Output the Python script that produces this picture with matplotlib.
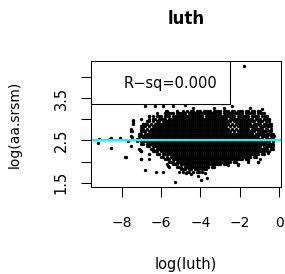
import numpy as np
import matplotlib
matplotlib.use('Agg')
import matplotlib.pyplot as plt
from matplotlib.patches import Rectangle

# Nube de puntos leida fila por fila (x en decimas de log(luth))
row_y = [3.20, 3.14, 3.08, 3.02, 2.96, 2.90, 2.84, 2.78, 2.72, 2.66, 2.60, 2.54, 2.48,
         2.42, 2.36, 2.30, 2.24, 2.18, 2.12, 2.06, 2.00, 1.94, 1.88, 1.82, 1.76]
row_x = [
    [-57, -52, -49, -47, -45, -44, -42, -41, -40, -38, -37, -36, -35, -33, -32, -31, -30, -28, -27, -26,
     -24, -23, -21, -20, -19, -17, -16, -14, -13, -11, -10],
    [-62, -58, -57, -56, -55, -54, -52, -51, -50, -49, -48, -46, -45, -44, -43, -42, -41, -40, -39, -38,
     -37, -36, -35, -34, -33, -32, -31, -30, -28, -27, -26, -25, -24, -23, -22, -21, -20, -19, -17, -16,
     -15, -14, -13, -11, -10, -9, -8],
    [-66, -64, -61, -60, -58, -57, -56, -54, -53, -52, -51, -50, -49, -48, -47, -46, -45, -44, -43, -42,
     -41, -40, -39, -37, -36, -35, -34, -33, -32, -31, -30, -29, -28, -27, -26, -25, -24, -23, -21, -20,
     -19, -18, -17, -16, -14, -13, -12, -11, -9, -8, -7, -6],
    [-70, -66, -64, -63, -61, -60, -59, -58, -56, -55, -54, -53, -52, -51, -50, -49, -48, -47, -46, -45,
     -44, -43, -42, -41, -40, -39, -38, -37, -36, -35, -34, -33, -32, -31, -30, -29, -28, -27, -25, -24,
     -23, -22, -21, -20, -19, -18, -17, -16, -15, -14, -12, -11, -10, -8, -7, -6, -5],
    [-74, -67, -66, -64, -62, -61, -59, -58, -57, -56, -55, -54, -53, -52, -51, -50, -49, -48, -47, -46,
     -45, -44, -43, -42, -41, -40, -39, -38, -37, -36, -35, -34, -33, -32, -31, -30, -29, -28, -27, -26,
     -25, -23, -22, -21, -20, -19, -18, -17, -16, -15, -14, -13, -11, -10, -9, -7, -6, -5],
    [-74, -69, -68, -67, -65, -63, -62, -61, -60, -59, -58, -57, -56, -55, -54, -53, -52, -51, -50, -49,
     -48, -47, -46, -45, -44, -43, -42, -41, -40, -39, -38, -37, -36, -35, -34, -33, -32, -31, -30, -29,
     -28, -27, -26, -24, -22, -21, -20, -19, -18, -17, -16, -15, -13, -12, -11, -10, -8, -7, -5, -4],
    [-70, -69, -68, -66, -64, -63, -62, -61, -60, -59, -58, -57, -56, -55, -54, -53, -52, -51, -50, -49,
     -48, -47, -46, -45, -44, -43, -42, -41, -40, -39, -38, -37, -36, -35, -34, -33, -32, -31, -30, -29,
     -28, -27, -25, -23, -21, -20, -19, -18, -17, -16, -15, -14, -13, -12, -10, -9, -8, -6, -5, -4],
    [-75, -70, -69, -67, -65, -64, -63, -62, -61, -60, -59, -58, -57, -56, -55, -54, -53, -52, -51, -50,
     -49, -48, -47, -46, -45, -44, -43, -42, -41, -40, -39, -38, -37, -36, -35, -34, -33, -32, -31, -30,
     -29, -28, -27, -26, -24, -22, -20, -19, -18, -17, -16, -14, -13, -12, -11, -10, -9, -7, -6, -4],
    [-75, -70, -69, -68, -66, -65, -64, -63, -62, -61, -60, -59, -58, -57, -56, -55, -54, -53, -52, -51,
     -50, -49, -48, -47, -46, -45, -44, -43, -42, -41, -40, -39, -38, -37, -36, -35, -34, -33, -32, -31,
     -30, -29, -28, -27, -26, -25, -23, -21, -20, -19, -18, -17, -16, -15, -14, -13, -11, -10, -9, -8,
     -7, -5, -4],
    [-71, -70, -68, -67, -66, -65, -64, -63, -62, -61, -60, -59, -58, -57, -56, -55, -54, -53, -52, -51,
     -50, -49, -48, -47, -46, -45, -44, -43, -42, -41, -40, -39, -38, -37, -36, -35, -34, -33, -32, -31,
     -30, -29, -28, -27, -26, -25, -24, -23, -22, -21, -20, -19, -18, -17, -16, -15, -14, -12, -11, -10,
     -9, -8, -6, -5, -4, -3],
    [-75, -71, -70, -69, -68, -67, -66, -65, -64, -63, -62, -61, -60, -59, -58, -57, -56, -55, -54, -53,
     -52, -51, -50, -49, -48, -47, -46, -45, -44, -43, -42, -41, -40, -39, -38, -37, -36, -35, -34, -33,
     -32, -31, -30, -29, -28, -27, -26, -25, -24, -23, -22, -21, -20, -19, -18, -17, -16, -15, -14, -13,
     -12, -11, -9, -8, -7, -6, -4, -3],
    [-86, -81, -72, -71, -69, -68, -67, -66, -65, -64, -63, -62, -61, -60, -59, -58, -57, -56, -55, -54,
     -53, -52, -51, -50, -49, -48, -47, -46, -45, -44, -43, -42, -41, -40, -39, -38, -37, -36, -35, -34,
     -33, -32, -31, -30, -29, -28, -27, -26, -25, -24, -23, -22, -21, -20, -19, -18, -17, -16, -15, -14,
     -13, -12, -11, -10, -9, -7, -6, -5, -4, -3],
    [-77, -72, -70, -69, -68, -67, -66, -65, -64, -63, -62, -61, -60, -59, -58, -57, -56, -55, -54, -53,
     -52, -51, -50, -49, -48, -47, -46, -45, -44, -43, -42, -41, -40, -39, -38, -37, -36, -35, -34, -33,
     -32, -31, -30, -29, -28, -27, -26, -25, -24, -23, -22, -21, -20, -19, -18, -17, -16, -15, -14, -13,
     -12, -11, -10, -9, -8, -7, -6, -5, -3],
    [-70, -69, -67, -66, -65, -64, -63, -62, -61, -60, -59, -58, -57, -56, -55, -54, -53, -52, -51, -50,
     -49, -48, -47, -46, -45, -44, -43, -42, -41, -40, -39, -38, -37, -36, -35, -34, -33, -32, -31, -30,
     -29, -28, -27, -26, -25, -24, -23, -22, -21, -20, -19, -18, -17, -16, -15, -14, -13, -12, -11, -10,
     -9, -8, -7, -5, -4, -3],
    [-75, -67, -66, -64, -63, -62, -61, -60, -59, -58, -57, -56, -55, -54, -53, -52, -51, -50, -49, -48,
     -47, -46, -45, -44, -43, -42, -41, -40, -39, -38, -37, -36, -35, -34, -33, -32, -31, -30, -29, -28,
     -27, -26, -25, -24, -23, -22, -21, -20, -19, -18, -17, -16, -15, -14, -13, -12, -11, -10, -8, -7,
     -6, -5, -4, -3],
    [-71, -65, -64, -62, -61, -60, -59, -58, -57, -56, -55, -54, -53, -52, -51, -50, -49, -48, -47, -46,
     -45, -44, -43, -42, -41, -40, -39, -38, -37, -36, -35, -34, -33, -32, -31, -30, -29, -28, -27, -26,
     -25, -24, -23, -22, -21, -20, -19, -18, -17, -16, -15, -14, -13, -12, -11, -10, -9, -8, -7, -6,
     -4, -3],
    [-70, -64, -63, -62, -60, -59, -58, -57, -56, -55, -54, -53, -52, -51, -50, -49, -48, -47, -46, -45,
     -44, -43, -42, -41, -40, -39, -38, -37, -36, -35, -34, -33, -32, -31, -30, -29, -28, -27, -26, -25,
     -24, -23, -22, -21, -20, -19, -18, -17, -16, -15, -14, -13, -12, -11, -10, -9, -8, -6, -5],
    [-66, -62, -61, -59, -58, -57, -56, -55, -54, -53, -52, -51, -50, -49, -48, -47, -46, -45, -44, -43,
     -42, -41, -40, -39, -38, -37, -36, -35, -34, -33, -32, -31, -30, -29, -28, -27, -26, -25, -24, -23,
     -22, -21, -20, -19, -18, -17, -16, -15, -14, -13, -12, -11, -9, -8],
    [-78, -60, -59, -57, -55, -54, -53, -52, -51, -50, -49, -48, -47, -46, -45, -44, -43, -42, -41, -40,
     -39, -38, -37, -36, -35, -34, -33, -32, -31, -30, -29, -28, -27, -26, -25, -24, -23, -22, -21, -20,
     -19, -18, -17, -16, -15, -13, -12],
    [-70, -66, -58, -57, -56, -54, -53, -52, -51, -50, -49, -48, -47, -46, -45, -44, -43, -42, -41, -40,
     -39, -38, -37, -36, -35, -34, -33, -32, -31, -30, -29, -28, -27, -26, -25, -24, -23, -22, -21, -20,
     -19, -17, -16, -10],
    [-56, -55, -54, -52, -51, -50, -49, -48, -47, -46, -45, -44, -43, -42, -41, -40, -39, -38, -37, -36,
     -35, -34, -33, -32, -31, -30, -29, -28, -27, -26, -25, -23, -22, -16, -11],
    [-57, -54, -53, -52, -50, -49, -48, -47, -46, -45, -44, -43, -42, -41, -40, -39, -38, -37, -36, -35,
     -34, -33, -32, -31, -30, -28, -27, -21],
    [-56, -52, -51, -50, -48, -47, -46, -45, -44, -43, -42, -41, -40, -39, -38, -37, -36, -34, -33],
    [-50, -49, -48, -46, -45, -43, -42, -41, -39, -38, -37],
    [-51, -49, -47, -46, -44, -42, -41, -39],
]

# Puntos sueltos fuera de la nube
sparse_x = [-9.21, -9.15, -8.54, -8.56, -8.10, -7.83, -7.42, -7.42, -7.47, -7.47, -7.09, -7.00, -7.03,
            -6.83, -6.24, -5.90, -5.65, -5.30, -4.74, -4.50, -4.13, -3.97, -3.69, -3.77, -2.60, -2.10,
            -1.60, -1.08, -0.57, -0.29, -6.80, -6.31, -5.89, -5.38, -4.79, -3.74, -2.38, -1.78, -6.60,
            -6.20, -5.77, -6.90, -4.40, -3.30, -2.80, -1.50, -0.90]
sparse_y = [2.45, 2.53, 2.33, 2.55, 2.57, 2.10, 2.98, 2.92, 2.72, 2.59, 2.27, 2.07, 2.24,
            1.79, 1.75, 1.75, 1.89, 1.51, 1.72, 1.70, 1.65, 1.56, 1.60, 1.72, 1.92, 1.92,
            2.04, 2.00, 2.20, 2.60, 3.32, 3.32, 3.32, 3.32, 3.34, 3.48, 3.32, 4.27, 3.09,
            3.09, 3.20, 2.90, 3.27, 3.27, 3.26, 3.26, 3.24]

# Recta de regresion y R cuadrado
fit_intercept = 2.50
fit_slope = 0.0
r_squared = 0.0

x_ticks = [-8, -6, -4, -2, 0]
y_ticks = [1.5, 2.0, 2.5, 3.0, 3.5, 4.0]
y_tick_labels = ['1.5', '', '2.5', '', '3.5', '']

x = np.concatenate([np.array(r) / 10 for r in row_x] + [np.array(sparse_x)])
y = np.concatenate([np.full(len(r), v) for r, v in zip(row_x, row_y)] + [np.array(sparse_y)])

fig = plt.figure(figsize=(2.85, 2.74), dpi=100)
ax = fig.add_axes([90.7 / 285, 87 / 274, 190 / 285, 126 / 274])

ax.plot(x, y, 'o', ms=2.4, mew=0, color='black', linestyle='none')
ax.axline((0, fit_intercept), slope=fit_slope, color='cyan', lw=1.5)

ax.set_xlim(-9.57, 0.07)
ax.set_ylim(1.398, 4.384)

ax.set_xticks(x_ticks)
ax.set_xticklabels([f'{v:g}'.replace('-', '\u2212') for v in x_ticks])
ax.set_yticks(y_ticks)
ax.set_yticklabels(y_tick_labels, rotation=90, va='center')
ax.tick_params(axis='both', direction='out', length=7.2, width=0.75, labelsize=10)
ax.tick_params(axis='x', pad=13.5)
ax.tick_params(axis='y', pad=8.5, labelsize=10.5)
for s in ax.spines.values():
    s.set_linewidth(0.75)

# Caja de leyenda arriba a la izquierda
ax.add_patch(Rectangle((0, 0.661), 0.733, 0.339, transform=ax.transAxes,
                       facecolor='white', edgecolor='black', lw=0.75, zorder=3))
ax.text(0.172, 0.82, f'R\u2212sq={r_squared:.3f}', transform=ax.transAxes,
        ha='left', va='center', fontsize=10.5, zorder=4)

ax.set_title('luth', fontweight='bold', fontsize=12, pad=27)
ax.set_xlabel('log(luth)', fontsize=10.5)
ax.xaxis.set_label_coords(0.5, -0.555)
ax.set_ylabel('log(aa.srsm)', fontsize=10)
ax.yaxis.set_label_coords(-0.362, 0.5)

plt.savefig('out.png', dpi=100)
